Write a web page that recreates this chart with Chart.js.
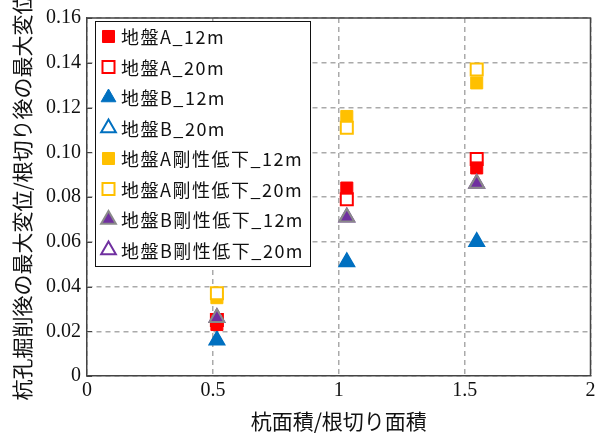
<!DOCTYPE html>
<html>
<head>
<meta charset="utf-8">
<script src="https://cdn.jsdelivr.net/npm/chart.js@4.4.0/dist/chart.umd.min.js"></script>
<style>
  html, body { margin: 0; padding: 0; background: #fff; }
  #wrap { width: 601px; height: 434px; }
</style>
</head>
<body>
<div id="wrap"><canvas id="chart" width="601" height="434"></canvas></div>
<script>
// pile area / excavation area, one per column of markers
const ratios = [0.516, 1.032, 1.548];

// max displacement after pile boring / after excavation
const groundA12 = [0.023, 0.084, 0.093];
const groundA20 = [0.025, 0.079, 0.097];
const groundB12 = [0.016, 0.051, 0.060];
const groundB20 = [0.016, 0.051, 0.060];
const groundASoft12 = [0.035, 0.116, 0.131];
const groundASoft20 = [0.037, 0.111, 0.137];
const groundBSoft12 = [0.026, 0.071, 0.086];
const groundBSoft20 = [0.026, 0.071, 0.086];

const labels = [
    '地盤A_12m',
    '地盤A_20m',
    '地盤B_12m',
    '地盤B_20m',
    '地盤A剛性低下_12m',
    '地盤A剛性低下_20m',
    '地盤B剛性低下_12m',
    '地盤B剛性低下_20m'
];
const xTicks = [0, 0.5, 1, 1.5, 2];
const yTicks = [0, 0.02, 0.04, 0.06, 0.08, 0.10, 0.12, 0.14, 0.16];

const RED = '#FF0000', BLUE = '#0070C0', YELLOW = '#FFC000', PURPLE = '#7030A0';
const R = 8.5;

function points(values) {
    return values.map((v, i) => ({ x: ratios[i], y: v }));
}

// filled / hollow marker dataset
function series(label, values, shape, color, hollow, order) {
    const greyEdge = shape === 'triangle' && color === PURPLE && !hollow;
    return {
        label: label,
        data: points(values),
        pointStyle: shape,
        pointRadius: R,
        pointHoverRadius: R,
        backgroundColor: hollow ? '#FFFFFF' : color,
        borderColor: greyEdge ? '#8A8A8A' : color,
        borderWidth: hollow ? 2 : (greyEdge ? 2 : 1),
        showLine: false,
        order: order
    };
}

const datasets = [
    series(labels[0], groundA12, 'rect', RED, false, 3),
    series(labels[1], groundA20, 'rect', RED, true, 4),
    series(labels[2], groundB12, 'triangle', BLUE, false, 2),
    series(labels[3], groundB20, 'triangle', BLUE, true, 5),
    series(labels[4], groundASoft12, 'rect', YELLOW, false, 6),
    series(labels[5], groundASoft20, 'rect', YELLOW, true, 5),
    series(labels[6], groundBSoft12, 'triangle', PURPLE, false, 0),
    series(labels[7], groundBSoft20, 'triangle', PURPLE, true, 1)
];

function drawMarker(ctx, ds, x, y) {
    ctx.fillStyle = ds.backgroundColor;
    ctx.strokeStyle = ds.borderColor;
    ctx.lineWidth = ds.borderWidth;
    ctx.beginPath();
    if (ds.pointStyle === 'rect') {
        const h = R * Math.SQRT1_2;
        ctx.rect(x - h, y - h, 2 * h, 2 * h);
    } else {
        let a = 0;
        ctx.moveTo(x + Math.sin(a) * R, y - Math.cos(a) * R);
        a += Math.PI * 2 / 3;
        ctx.lineTo(x + Math.sin(a) * R, y - Math.cos(a) * R);
        a += Math.PI * 2 / 3;
        ctx.lineTo(x + Math.sin(a) * R, y - Math.cos(a) * R);
        ctx.closePath();
    }
    ctx.fill();
    ctx.stroke();
}

// top/right frame and the small inside ticks on the y axis
const frame = {
    id: 'frame',
    beforeDatasetsDraw(chart) {
        const { ctx, chartArea: a } = chart;
        const ys = chart.scales.y;
        ctx.save();
        ctx.strokeStyle = '#444';
        ctx.lineWidth = 1.5;
        ctx.beginPath();
        ctx.moveTo(a.left, a.top);
        ctx.lineTo(a.right, a.top);
        ctx.lineTo(a.right, a.bottom);
        ctx.stroke();
        ctx.lineWidth = 1;
        yTicks.forEach(v => {
            const py = Math.round(ys.getPixelForValue(v)) + 0.5;
            ctx.beginPath();
            ctx.moveTo(a.left, py);
            ctx.lineTo(a.left + 5, py);
            ctx.stroke();
        });
        ctx.restore();
    }
};

// boxed legend in the upper left of the plot
const boxLegend = {
    id: 'boxLegend',
    afterDraw(chart) {
        const ctx = chart.ctx;
        const left = 95.5, top = 21.5, w = 215, h = 245;
        ctx.save();
        ctx.fillStyle = '#FFFFFF';
        ctx.fillRect(left, top, w, h);
        ctx.strokeStyle = '#111';
        ctx.lineWidth = 1;
        ctx.strokeRect(left, top, w, h);
        ctx.font = '18px "Noto Sans CJK JP"';
        ctx.textBaseline = 'middle';
        if ('letterSpacing' in ctx) ctx.letterSpacing = '1.5px';
        labels.forEach((label, i) => {
            const ds = chart.data.datasets.find(d => d.label === label);
            const y = 36.5 + i * 30.5;
            drawMarker(ctx, ds, 108.5, y);
            ctx.fillStyle = '#111';
            ctx.fillText(label, 121, y + 1);
        });
        ctx.restore();
    }
};

const serif = { family: '"Liberation Serif", "Times New Roman", serif', size: 20 };
const gothic = { family: '"Noto Sans CJK JP", sans-serif', size: 21 };

new Chart(document.getElementById('chart'), {
    type: 'scatter',
    data: { datasets: datasets },
    options: {
        responsive: false,
        animation: false,
        layout: { padding: { top: 14, right: 8, left: 0, bottom: 0 } },
        plugins: {
            legend: { display: false },
            tooltip: { enabled: false }
        },
        scales: {
            x: {
                type: 'linear',
                min: 0,
                max: 2,
                afterBuildTicks: s => { s.ticks = xTicks.map(v => ({ value: v })); },
                afterFit: s => { s.height = 58; },
                ticks: {
                    color: '#111',
                    font: serif,
                    padding: 3,
                    maxRotation: 0,
                    callback: v => String(v)
                },
                grid: { color: '#AAAAAA', lineWidth: 1.5, drawTicks: false },
                border: { color: '#444', width: 1.5, dash: [5, 4] },
                title: {
                    display: true,
                    text: '杭面積/根切り面積',
                    color: '#111',
                    font: gothic,
                    padding: { top: 0, bottom: 0 }
                }
            },
            y: {
                type: 'linear',
                min: 0,
                max: 0.16,
                afterBuildTicks: s => { s.ticks = yTicks.map(v => ({ value: v })); },
                afterFit: s => { s.width = 87; },
                ticks: {
                    color: '#111',
                    font: serif,
                    padding: 6,
                    callback: v => (v === 0 ? '0' : v.toFixed(2))
                },
                grid: { color: '#AAAAAA', lineWidth: 1.5, drawTicks: false },
                border: { color: '#444', width: 1.5, dash: [5, 4] },
                title: {
                    display: true,
                    text: '杭孔掘削後の最大変位/根切り後の最大変位',
                    color: '#111',
                    font: gothic,
                    padding: { top: 9, bottom: 0 }
                }
            }
        }
    },
    plugins: [frame, boxLegend]
});
</script>
</body>
</html>
